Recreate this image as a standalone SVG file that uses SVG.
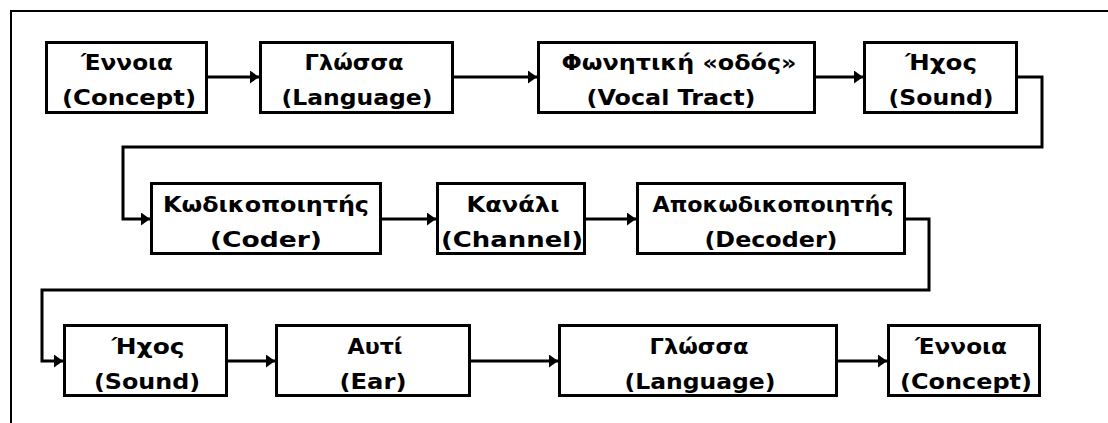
<svg xmlns="http://www.w3.org/2000/svg" width="1108" height="423" viewBox="0 0 1108 423">
<style>
.box{fill:#fff;stroke:#000;stroke-width:3}
.t{font-family:"DejaVu Sans","Liberation Sans",sans-serif;font-weight:bold;font-size:22px;fill:#000;text-anchor:middle}
.c{fill:none;stroke:#000;stroke-width:3;stroke-linejoin:miter}
.frame{fill:none;stroke:#000;stroke-width:2}
</style>
<defs>
<marker id="ah" markerUnits="userSpaceOnUse" viewBox="0 0 9 13" refX="9" refY="6.5" markerWidth="9" markerHeight="13" orient="auto">
<path d="M0,0 L9,6.5 L0,13 z" fill="#000"/>
</marker>
</defs>
<rect width="1108" height="423" fill="#fff"/>
<path class="frame" d="M11,423 V11 H1108"/>
<g id="connectors">
<path class="c" marker-end="url(#ah)" d="M208,77 H259"/>
<path class="c" marker-end="url(#ah)" d="M454,77 H537"/>
<path class="c" marker-end="url(#ah)" d="M816,77 H863"/>
<path class="c" marker-end="url(#ah)" d="M1018,77 H1042 V147 H123 V219 H150"/>
<path class="c" marker-end="url(#ah)" d="M382,219 H436"/>
<path class="c" marker-end="url(#ah)" d="M586,219 H636"/>
<path class="c" marker-end="url(#ah)" d="M906,219 H929 V290 H42 V361 H63"/>
<path class="c" marker-end="url(#ah)" d="M228,361 H275"/>
<path class="c" marker-end="url(#ah)" d="M471,361 H558"/>
<path class="c" marker-end="url(#ah)" d="M838,361 H887"/>
</g>
<g id="n1"><rect class="box" x="46.5" y="42.5" width="160" height="70"/><text class="t" x="127" y="70" textLength="92" lengthAdjust="spacingAndGlyphs">Έννοια</text><text class="t" x="129" y="105" textLength="134" lengthAdjust="spacingAndGlyphs">(Concept)</text></g>
<g id="n2"><rect class="box" x="260.5" y="42.5" width="192" height="70"/><text class="t" x="354" y="70" textLength="99" lengthAdjust="spacingAndGlyphs">Γλώσσα</text><text class="t" x="357" y="105" textLength="151" lengthAdjust="spacingAndGlyphs">(Language)</text></g>
<g id="n3"><rect class="box" x="538.5" y="42.5" width="276" height="70"/><text class="t" x="679" y="70" textLength="235" lengthAdjust="spacingAndGlyphs">Φωνητική «οδός»</text><text class="t" x="671" y="105" textLength="169" lengthAdjust="spacingAndGlyphs">(Vocal Tract)</text></g>
<g id="n4"><rect class="box" x="864.5" y="42.5" width="152" height="70"/><text class="t" x="941" y="70" textLength="72" lengthAdjust="spacingAndGlyphs">Ήχος</text><text class="t" x="941" y="105" textLength="105" lengthAdjust="spacingAndGlyphs">(Sound)</text></g>
<g id="n5"><rect class="box" x="151.5" y="183.5" width="229" height="70"/><text class="t" x="266" y="212" textLength="206" lengthAdjust="spacingAndGlyphs">Κωδικοποιητής</text><text class="t" x="266" y="247" textLength="112" lengthAdjust="spacingAndGlyphs">(Coder)</text></g>
<g id="n6"><rect class="box" x="437.5" y="183.5" width="147" height="70"/><text class="t" x="513" y="212" textLength="93" lengthAdjust="spacingAndGlyphs">Κανάλι</text><text class="t" x="512" y="247" textLength="142" lengthAdjust="spacingAndGlyphs">(Channel)</text></g>
<g id="n7"><rect class="box" x="637.5" y="183.5" width="267" height="70"/><text class="t" x="773" y="212" textLength="241" lengthAdjust="spacingAndGlyphs">Αποκωδικοποιητής</text><text class="t" x="771" y="247" textLength="133" lengthAdjust="spacingAndGlyphs">(Decoder)</text></g>
<g id="n8"><rect class="box" x="64.5" y="325.5" width="162" height="70"/><text class="t" x="148" y="354" textLength="73" lengthAdjust="spacingAndGlyphs">Ήχος</text><text class="t" x="147" y="389" textLength="106" lengthAdjust="spacingAndGlyphs">(Sound)</text></g>
<g id="n9"><rect class="box" x="276.5" y="325.5" width="193" height="70"/><text class="t" x="375" y="354" textLength="55" lengthAdjust="spacingAndGlyphs">Αυτί</text><text class="t" x="373" y="389" textLength="67" lengthAdjust="spacingAndGlyphs">(Ear)</text></g>
<g id="n10"><rect class="box" x="559.5" y="325.5" width="277" height="70"/><text class="t" x="699" y="354" textLength="99" lengthAdjust="spacingAndGlyphs">Γλώσσα</text><text class="t" x="700" y="389" textLength="151" lengthAdjust="spacingAndGlyphs">(Language)</text></g>
<g id="n11"><rect class="box" x="888.5" y="325.5" width="151" height="70"/><text class="t" x="961" y="354" textLength="92" lengthAdjust="spacingAndGlyphs">Έννοια</text><text class="t" x="966" y="389" textLength="132" lengthAdjust="spacingAndGlyphs">(Concept)</text></g>
</svg>
